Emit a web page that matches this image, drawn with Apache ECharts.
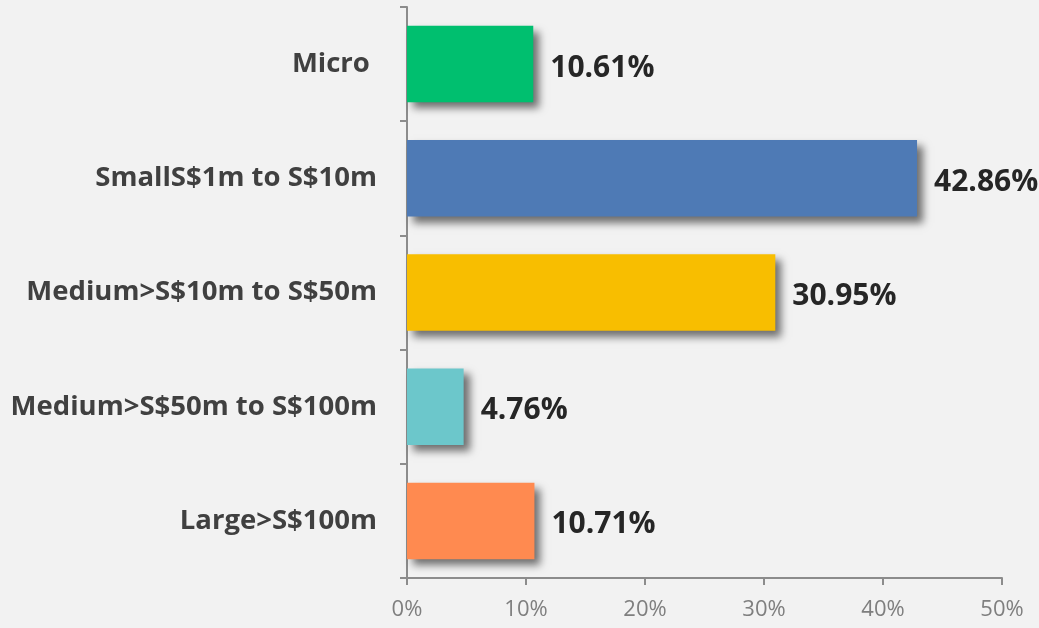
<!DOCTYPE html>
<html>
<head>
<meta charset="utf-8">
<title>Company size</title>
<script src="https://cdn.jsdelivr.net/npm/echarts@6/dist/echarts.min.js"></script>
<style>
  html, body { margin: 0; padding: 0; background: #f2f2f2; }
  #main { width: 1039px; height: 628px; }
</style>
</head>
<body>
<div id="main"></div>
<script type="text/javascript">
  // categories, top to bottom
  var categories = ['Micro ', 'SmallS$1m to S$10m', 'Medium>S$10m to S$50m', 'Medium>S$50m to S$100m', 'Large>S$100m'];
  var shares = [10.61, 42.86, 30.95, 4.76, 10.71];
  var barColors = ['#00bf6f', '#4e7ab5', '#f8be00', '#6cc7cb', '#ff8a50'];

  var myChart = echarts.init(document.getElementById('main'));

  var barData = shares.map(function (v, i) {
    return { value: v, itemStyle: { color: barColors[i] } };
  });

  var option = {
    backgroundColor: '#f2f2f2',
    grid: { left: 407, right: 37, top: 7, bottom: 50 },
    xAxis: {
      type: 'value',
      min: 0,
      max: 50,
      interval: 10,
      axisLine: { show: true, lineStyle: { color: '#8c8c8c', width: 2 } },
      axisTick: { show: true, length: 7, lineStyle: { color: '#8c8c8c', width: 2 } },
      splitLine: { show: false },
      axisLabel: {
        formatter: '{value}%',
        color: '#7f7f7f',
        fontSize: 22,
        fontFamily: 'Open Sans',
        margin: 21
      }
    },
    yAxis: {
      type: 'category',
      inverse: true,
      data: categories,
      axisLine: { show: true, lineStyle: { color: '#8c8c8c', width: 2 } },
      axisTick: { show: true, length: 7, lineStyle: { color: '#8c8c8c', width: 2 } },
      axisLabel: {
        color: '#404040',
        fontSize: 27.5,
        fontWeight: 'bold',
        fontFamily: 'Open Sans',
        margin: 30
      }
    },
    series: [
      {
        type: 'bar',
        data: barData,
        barWidth: '67%',
        itemStyle: {
          shadowColor: 'rgba(0,0,0,0.55)',
          shadowBlur: 8,
          shadowOffsetX: 6,
          shadowOffsetY: 6
        },
        label: {
          show: true,
          position: 'right',
          distance: 17,
          offset: [0, 4],
          formatter: function (p) { return p.value.toFixed(2) + '%'; },
          color: '#262626',
          fontSize: 30,
          fontWeight: 'bold',
          fontFamily: 'Open Sans'
        }
      }
    ]
  };
  myChart.setOption(option);
</script>
</body>
</html>
